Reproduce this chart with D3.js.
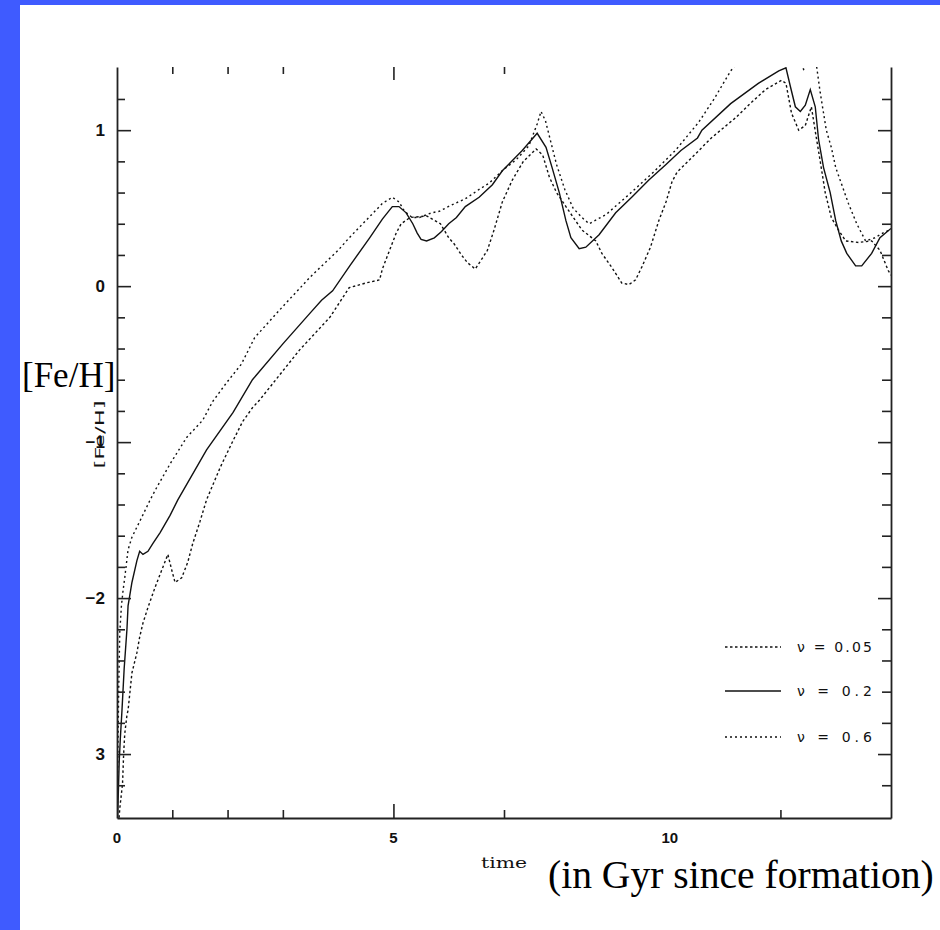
<!DOCTYPE html>
<html><head><meta charset="utf-8">
<script src="https://cdn.jsdelivr.net/npm/d3@7"></script>
<style>
html,body{margin:0;padding:0;background:#fff;}
svg{display:block;}
</style></head><body>
<svg id="chart" width="940" height="930"></svg>
<script>
// ---- data ----
// series nu = 0.2 (solid)
const timeB = [0,0.02,0.04,0.06,0.09,0.13,0.18,0.2,0.27,0.36,0.41,0.47,0.56,0.65,0.78,0.96,1.1,1.62,2.1,2.45,3.0,3.5,3.7,3.9,4.21,4.57,4.8,4.98,5.1,5.23,5.35,5.43,5.5,5.6,5.74,5.87,6.0,6.14,6.3,6.55,6.79,6.97,7.33,7.6,7.76,7.87,8.0,8.12,8.21,8.36,8.48,8.72,9.02,9.31,9.62,9.93,10.2,10.5,10.58,11.1,11.6,11.97,12.1,12.18,12.27,12.36,12.45,12.54,12.63,12.69,12.78,12.9,13.0,13.1,13.2,13.36,13.47,13.65,13.8,14.0];
const feB = [-3.6,-3.3,-3.05,-2.9,-2.72,-2.45,-2.2,-2.05,-1.9,-1.76,-1.7,-1.72,-1.7,-1.65,-1.58,-1.47,-1.37,-1.05,-0.81,-0.6,-0.37,-0.17,-0.09,-0.03,0.13,0.31,0.43,0.51,0.51,0.47,0.4,0.34,0.3,0.29,0.31,0.35,0.4,0.44,0.51,0.57,0.65,0.74,0.87,0.98,0.89,0.76,0.6,0.42,0.31,0.24,0.25,0.33,0.47,0.57,0.68,0.78,0.87,0.95,1.0,1.17,1.3,1.38,1.4,1.28,1.15,1.12,1.16,1.26,1.15,0.94,0.76,0.6,0.42,0.29,0.21,0.13,0.13,0.21,0.31,0.37];
// series nu = 0.6 (upper dotted)
const timeA = [0,0.01,0.02,0.03,0.05,0.08,0.11,0.14,0.2,0.27,0.45,0.6,0.72,0.96,1.26,1.55,1.73,1.98,2.25,2.49,3.0,3.5,4.0,4.2,4.5,4.8,4.98,5.1,5.2,5.34,5.47,5.69,5.83,6.05,6.3,6.55,6.73,7.0,7.22,7.45,7.6,7.67,7.75,7.85,7.95,8.1,8.25,8.41,8.54,8.85,9.3,9.7,10.1,10.52,10.8,11.1,11.5,11.9,12.2,12.42,12.55,12.65,12.72,12.83,12.92,13.0,13.1,13.23,13.38,13.54,13.71,13.9,14.0];
const feA = [-3.6,-3.2,-2.9,-2.6,-2.22,-2.05,-1.95,-1.87,-1.69,-1.61,-1.48,-1.37,-1.29,-1.14,-0.97,-0.86,-0.74,-0.62,-0.5,-0.33,-0.13,0.06,0.23,0.31,0.42,0.53,0.57,0.54,0.48,0.44,0.44,0.47,0.48,0.52,0.56,0.62,0.66,0.75,0.81,0.9,1.04,1.12,1.06,0.92,0.78,0.62,0.5,0.44,0.4,0.46,0.6,0.73,0.87,1.05,1.2,1.38,1.55,1.65,1.52,1.39,1.48,1.42,1.24,1.0,0.89,0.76,0.66,0.53,0.4,0.29,0.31,0.35,0.36];
// series nu = 0.05 (lower dotted)
const timeC = [0,0.05,0.1,0.12,0.14,0.18,0.2,0.27,0.36,0.41,0.47,0.56,0.69,0.81,0.92,0.99,1.05,1.17,1.28,1.37,1.5,1.62,1.87,2.1,2.27,2.45,2.58,3.3,3.85,4.2,4.5,4.75,4.8,4.93,5.05,5.14,5.3,5.6,5.85,6.0,6.1,6.23,6.34,6.48,6.61,6.7,6.82,6.97,7.15,7.35,7.58,7.7,7.82,7.95,8.12,8.41,8.66,8.77,8.95,9.13,9.26,9.38,9.49,9.65,9.8,9.93,10.04,10.13,10.47,10.75,11.19,11.45,11.73,12.02,12.1,12.2,12.33,12.45,12.56,12.65,12.72,12.81,12.92,13.05,13.18,13.41,13.65,13.8,13.95,14.0];
const feC = [-3.6,-3.35,-3.19,-3.0,-2.87,-2.75,-2.72,-2.48,-2.35,-2.25,-2.16,-2.06,-1.93,-1.82,-1.72,-1.82,-1.9,-1.87,-1.77,-1.65,-1.51,-1.37,-1.16,-0.99,-0.87,-0.78,-0.73,-0.41,-0.2,-0.01,0.02,0.04,0.11,0.23,0.34,0.4,0.44,0.45,0.4,0.31,0.27,0.2,0.15,0.11,0.18,0.23,0.36,0.54,0.68,0.8,0.88,0.84,0.7,0.6,0.51,0.36,0.29,0.21,0.12,0.02,0.01,0.04,0.12,0.25,0.42,0.54,0.67,0.73,0.85,0.95,1.08,1.17,1.26,1.32,1.3,1.11,1.0,1.03,1.15,0.95,0.8,0.6,0.44,0.36,0.29,0.28,0.29,0.23,0.1,0.07];

const legendLabels = ["\u03bd = 0.05", "\u03bd = 0.2", "\u03bd = 0.6"];

// tick values / labels
const xTicksBottomMinor = [1,2,3,7,12];
const xTicksTopMinor = [1,2,3,7];
const xTicksMajor = [5];
const xLabelValues = [0,5,10];
const xLabelTexts = ["0","5","10"];
const yTicksMinor = [-3.2,-2.8,-2.6,-2.4,-2.2,-1.8,-1.6,-1.4,-1.2,-0.8,-0.6,-0.4,-0.2,0.2,0.4,0.6,0.8,1.2];
const yTicksMajor = [-3,-2,-1,0,1];
const yLabelTexts = ["3","\u22122","\u22121","0","1"];

// ---- drawing ----
const svg = d3.select("#chart");
const W = 940, H = 930;
const L = 117, R = 891, T = 67, B = 818;

svg.append("rect").attr("width",W).attr("height",H).attr("fill","#fff");

const x = d3.scaleLinear().domain([0,14]).range([L,R]);
const y = d3.scaleLinear().domain([-3.41,1.405]).range([B,T]);

svg.append("defs").append("clipPath").attr("id","plotclip")
  .append("rect").attr("x",L).attr("y",T).attr("width",R-L).attr("height",B-T);

const line = d3.line().x(d=>x(d[0])).y(d=>y(d[1])).curve(d3.curveLinear);
const series = [
  {t:timeC, v:feC, dash:"2.5,2.5", label:legendLabels[0]},
  {t:timeB, v:feB, dash:null,  label:legendLabels[1]},
  {t:timeA, v:feA, dash:"2,3", label:legendLabels[2]}
];
const plot = svg.append("g").attr("clip-path","url(#plotclip)");
series.forEach(s=>{
  plot.append("path")
    .datum(s.t.map((t,i)=>[t,s.v[i]]))
    .attr("d",line)
    .attr("fill","none")
    .attr("stroke","#111")
    .attr("stroke-width",1.4)
    .attr("stroke-dasharray",s.dash);
});

function styleAxis(g){
  g.selectAll("path.domain").attr("stroke","#222").attr("stroke-width",1.8);
  g.selectAll(".tick line").attr("stroke","#222").attr("stroke-width",1.6);
  g.selectAll(".tick text").remove();
}
// left
svg.append("g").attr("transform",`translate(${L},0)`)
  .call(d3.axisRight(y).tickValues(yTicksMinor).tickSize(8).tickSizeOuter(0).tickFormat(""))
  .call(styleAxis);
svg.append("g").attr("transform",`translate(${L},0)`)
  .call(d3.axisRight(y).tickValues(yTicksMajor).tickSize(14).tickSizeOuter(0).tickFormat(""))
  .call(styleAxis).call(g=>g.select(".domain").remove());
// right
svg.append("g").attr("transform",`translate(${R},0)`)
  .call(d3.axisLeft(y).tickValues(yTicksMinor).tickSize(9).tickSizeOuter(0).tickFormat(""))
  .call(styleAxis);
svg.append("g").attr("transform",`translate(${R},0)`)
  .call(d3.axisLeft(y).tickValues(yTicksMajor).tickSize(13).tickSizeOuter(0).tickFormat(""))
  .call(styleAxis).call(g=>g.select(".domain").remove());
// bottom
svg.append("g").attr("transform",`translate(0,${B})`)
  .call(d3.axisTop(x).tickValues(xTicksBottomMinor).tickSize(8).tickSizeOuter(0).tickFormat(""))
  .call(styleAxis);
svg.append("g").attr("transform",`translate(0,${B})`)
  .call(d3.axisTop(x).tickValues(xTicksMajor).tickSize(14).tickSizeOuter(0).tickFormat(""))
  .call(styleAxis).call(g=>g.select(".domain").remove());
// top (ticks only)
svg.append("g").attr("transform",`translate(0,${T})`)
  .call(d3.axisBottom(x).tickValues(xTicksTopMinor).tickSize(7).tickSizeOuter(0).tickFormat(""))
  .call(styleAxis).call(g=>g.select(".domain").remove());
svg.append("g").attr("transform",`translate(0,${T})`)
  .call(d3.axisBottom(x).tickValues(xTicksMajor).tickSize(13).tickSizeOuter(0).tickFormat(""))
  .call(styleAxis).call(g=>g.select(".domain").remove());

// y tick labels
svg.append("g").selectAll("text").data(yTicksMajor).join("text")
  .attr("x",105).attr("y",d=>y(d)).attr("dy","0.36em")
  .attr("text-anchor","end")
  .attr("font-family","Liberation Sans, Arial, sans-serif")
  .attr("font-weight","bold").attr("font-size",17).attr("fill","#111")
  .text((d,i)=>yLabelTexts[i]);
// x tick labels
svg.append("g").selectAll("text").data(xLabelValues).join("text")
  .attr("x",d=>x(d)).attr("y",843)
  .attr("text-anchor","middle")
  .attr("font-family","Liberation Sans, Arial, sans-serif")
  .attr("font-weight","bold").attr("font-size",15).attr("fill","#111")
  .text((d,i)=>xLabelTexts[i]);

// axis titles (plot's own)
svg.append("text").attr("x",(L+R)/2).attr("y",868).attr("text-anchor","middle")
  .attr("font-family","DejaVu Serif, serif").attr("font-size",14).attr("fill","#111")
  .attr("textLength",46).attr("lengthAdjust","spacingAndGlyphs").text("time");
svg.append("text").attr("transform",`translate(104,${(T+B)/2 - 8}) rotate(-90)`)
  .attr("text-anchor","middle")
  .attr("font-family","DejaVu Sans, sans-serif").attr("font-size",13).attr("fill","#111")
  .attr("textLength",68).attr("lengthAdjust","spacingAndGlyphs").text("[Fe/H]");

// overlay captions
svg.append("text").attr("x",22).attr("y",387)
  .attr("font-family","Liberation Serif, Times New Roman, serif").attr("font-size",35).attr("fill","#000")
  .text("[Fe/H]");
svg.append("text").attr("x",548).attr("y",888)
  .attr("font-family","Liberation Serif, Times New Roman, serif").attr("font-size",39.6).attr("fill","#000")
  .text("(in Gyr since formation)");

// legend
const legendY = [647,691,737];
const lg = svg.append("g");
series.forEach((s,i)=>{
  lg.append("line").attr("x1",725).attr("x2",781).attr("y1",legendY[i]).attr("y2",legendY[i])
    .attr("stroke","#111").attr("stroke-width",1.4).attr("stroke-dasharray",s.dash);
  lg.append("text").attr("x",797).attr("y",legendY[i]).attr("dy","0.36em")
    .attr("font-family","DejaVu Sans, sans-serif").attr("font-size",14).attr("fill","#111")
    .attr("textLength",75).attr("lengthAdjust","spacing")
    .text(s.label);
});

// blue frame
svg.append("rect").attr("x",0).attr("y",0).attr("width",20).attr("height",H).attr("fill","#3f5bff");
svg.append("rect").attr("x",0).attr("y",0).attr("width",W).attr("height",5).attr("fill","#3f5bff");
</script>
</body></html>
